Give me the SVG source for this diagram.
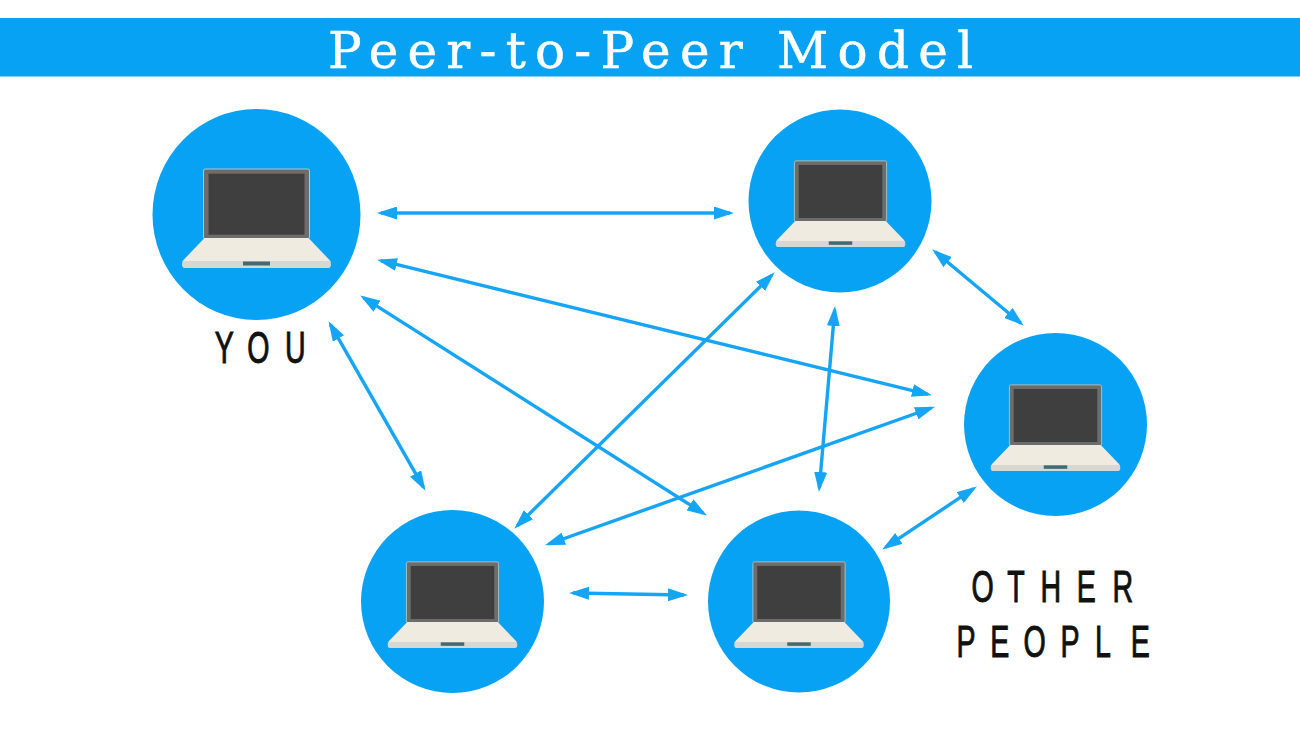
<svg xmlns="http://www.w3.org/2000/svg" width="1300" height="731" viewBox="0 0 1300 731">
<style>
.node{fill:#08a2f5}
.link{stroke:#15a5f4;stroke-width:3.400;fill:none;marker-start:url(#head);marker-end:url(#head)}
.title{font-family:"DejaVu Serif",serif;font-size:50px;fill:#fff;stroke:#fff;stroke-width:.5}
.lab{font-family:"Liberation Sans",sans-serif;font-size:44px;fill:#111;stroke:#111;stroke-width:1}
</style>
<defs>
<marker id="head" viewBox="0 0 20 13" refX="16" refY="6.500" markerUnits="userSpaceOnUse" markerWidth="20" markerHeight="13" orient="auto-start-reverse"><path d="M0 0L20 6.500L0 13Z" fill="#15a5f4"/></marker>
<g id="laptop">
<rect x="-53" y="-99" width="106" height="70" rx="2" fill="#6c6e6c" stroke="#d5d5d0" stroke-width="0.8"/>
<rect x="-48" y="-94.300" width="96" height="61" fill="#3f3f3f"/>
<path d="M-52-30H52L73-8Q75-5 72-5H-72Q-75-5-73-8Z" fill="#f0ebe0"/>
<path d="M-74-7H74Q75.500 0 72 0H-72Q-75.500 0-74-7Z" fill="#d5d8d4"/>
<rect x="-13.500" y="-6.500" width="27" height="4" fill="#44696f"/>
</g>
</defs>
<rect id="banner" x="0" y="18" width="1300" height="58.500" fill="#08a2f5"/>
<text class="title" x="328" y="67.500" textLength="645" lengthAdjust="spacing">Peer-to-Peer Model</text>
<g id="connectors">
<line class="link" x1="381" y1="213" x2="730" y2="213"/>
<line class="link" x1="381" y1="260.700" x2="928" y2="394.300"/>
<line class="link" x1="363.500" y1="297.600" x2="703.500" y2="513.400"/>
<line class="link" x1="330.500" y1="324.600" x2="423.500" y2="487.400"/>
<line class="link" x1="771.900" y1="275.100" x2="517.100" y2="525.900"/>
<line class="link" x1="834.700" y1="310" x2="819.300" y2="488"/>
<line class="link" x1="935.300" y1="251.900" x2="1020.700" y2="323.100"/>
<line class="link" x1="931.200" y1="408" x2="548.800" y2="544"/>
<line class="link" x1="973.500" y1="488.700" x2="885.500" y2="547.300"/>
<line class="link" x1="573" y1="593" x2="684" y2="595"/>
</g>
<g id="you"><ellipse class="node" cx="256.500" cy="214.500" rx="104" ry="105.500"/><use href="#laptop" transform="translate(256.500 268)"/><text class="lab" transform="translate(214.800 363) scale(.65 1)" x="0 50 108">YOU</text></g>
<g id="peer-top"><circle class="node" cx="840" cy="201" r="91.500"/><use href="#laptop" transform="translate(840.500 247) scale(.87)"/></g>
<g id="peer-right"><circle class="node" cx="1055.500" cy="424.500" r="91.500"/><use href="#laptop" transform="translate(1055.500 471) scale(.87)"/></g>
<g id="peer-bottom-left"><circle class="node" cx="452.500" cy="601.500" r="91.500"/><use href="#laptop" transform="translate(452.500 648) scale(.87)"/></g>
<g id="peer-bottom-right"><circle class="node" cx="799" cy="601.500" r="91"/><use href="#laptop" transform="translate(799 648) scale(.87)"/></g>
<text class="lab" transform="translate(971.500 601.500) scale(.65 1)" x="0 55 106 162 217">OTHER</text>
<text class="lab" transform="translate(956.500 656.500) scale(.65 1)" x="0 52 103 160 213 268">PEOPLE</text>
</svg>
